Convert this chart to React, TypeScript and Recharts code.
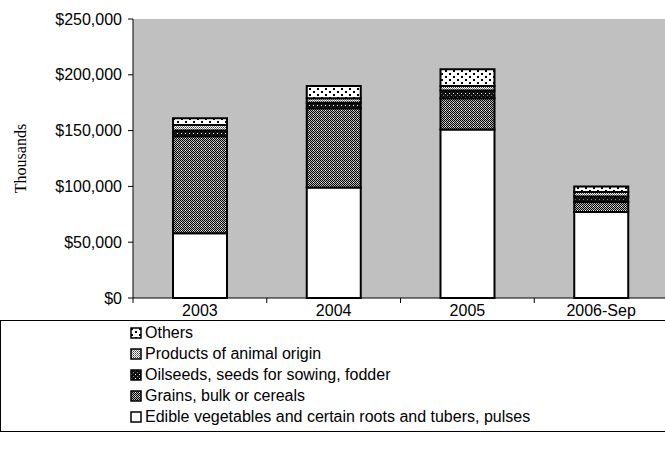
import React from 'react';
import { BarChart, Bar, XAxis, YAxis, CartesianGrid } from 'recharts';

const categories = ['2003', '2004', '2005', '2006-Sep'];
const edible = [58000, 99000, 151000, 77000];
const grains = [87000, 71000, 28000, 9000];
const oilseeds = [5000, 5000, 7000, 5000];
const animal = [5000, 4000, 4000, 4000];
const others = [6000, 11000, 15000, 5000];
const yTicks = [0, 50000, 100000, 150000, 200000, 250000];

const seriesKeys = ['edible', 'grains', 'oilseeds', 'animal', 'others'];
const seriesNames = [
  'Edible vegetables and certain roots and tubers, pulses',
  'Grains, bulk or cereals',
  'Oilseeds, seeds for sowing, fodder',
  'Products of animal origin',
  'Others',
];
const seriesFills = ['#ffffff', 'url(#pGrains)', 'url(#pOil)', 'url(#pAnimal)', 'url(#pOthers)'];

const data = categories.map((c, i) => ({
  category: c,
  edible: edible[i],
  grains: grains[i],
  oilseeds: oilseeds[i],
  animal: animal[i],
  others: others[i],
}));

const ARIAL = "'Liberation Sans', Arial, sans-serif";
const SERIF = "'Liberation Serif', 'Times New Roman', serif";

const fmt = (v: number) => '$' + v.toLocaleString('en-US');

const TICK_SIZE = 5;
const TICK_MARGIN = 1;

function CategoryTick(props: any) {
  const { x, y, payload, index } = props;
  const half = payload && payload.offset ? payload.offset : 0;
  const axisY = y - TICK_SIZE - TICK_MARGIN;
  return (
    <g>
      {index === 0 ? (
        <line x1={x - half} x2={x - half} y1={axisY} y2={axisY + TICK_SIZE} stroke="#000" />
      ) : null}
      <line x1={x + half} x2={x + half} y1={axisY} y2={axisY + TICK_SIZE} stroke="#000" />
      <text
        x={x}
        y={y}
        dy="0.78em"
        textAnchor="middle"
        fill="#000"
        fontFamily={ARIAL}
        fontSize={16}
      >
        {payload.value}
      </text>
    </g>
  );
}

function Patterns() {
  return (
    <svg width={0} height={0} style={{ position: 'absolute' }}>
      <defs>
        <pattern id="pGrains" patternUnits="userSpaceOnUse" width={4} height={4}>
          <rect x={0} y={0} width={4} height={4} fill="#b8b8b8" />
          <rect x={0} y={0} width={1} height={1} fill="#000" />
          <rect x={2} y={0} width={1} height={1} fill="#000" />
          <rect x={1} y={1} width={1} height={1} fill="#000" />
          <rect x={3} y={1} width={1} height={1} fill="#000" />
          <rect x={0} y={2} width={1} height={1} fill="#000" />
          <rect x={2} y={2} width={1} height={1} fill="#000" />
          <rect x={1} y={3} width={1} height={1} fill="#000" />
          <rect x={3} y={3} width={1} height={1} fill="#000" />
          <rect x={1} y={2} width={1} height={1} fill="#fff" />
        </pattern>
        <pattern id="pOil" patternUnits="userSpaceOnUse" width={4} height={4}>
          <rect x={0} y={0} width={4} height={4} fill="#111" />
          <rect x={1} y={1} width={1} height={1} fill="#fff" />
          <rect x={3} y={3} width={1} height={1} fill="#888" />
        </pattern>
        <pattern id="pAnimal" patternUnits="userSpaceOnUse" width={2} height={2}>
          <rect x={0} y={0} width={2} height={2} fill="#ffffff" />
          <rect x={0} y={0} width={1} height={1} fill="#808080" />
          <rect x={1} y={1} width={1} height={1} fill="#404040" />
        </pattern>
        <pattern id="pOthers" patternUnits="userSpaceOnUse" width={8} height={6}>
          <rect x={0} y={0} width={8} height={6} fill="#ffffff" />
          <rect x={1} y={1} width={2} height={2} fill="#000" />
          <rect x={5} y={4} width={2} height={2} fill="#000" />
        </pattern>
      </defs>
    </svg>
  );
}

export default function App() {
  const legendOrder = [4, 3, 2, 1, 0];
  return (
    <div
      style={{
        position: 'absolute',
        left: 0,
        top: 0,
        width: 665,
        height: 463,
        overflow: 'hidden',
        background: '#fff',
      }}
    >
      <Patterns />
      <BarChart
        width={680}
        height={320}
        data={data}
        margin={{ top: 19, right: 12, bottom: 0, left: 0 }}
        barCategoryGap="30%"
      >
        <CartesianGrid horizontal={false} vertical={false} fill="#c0c0c0" />
        <XAxis
          dataKey="category"
          tickLine={false}
          axisLine={{ stroke: '#000', strokeWidth: 1 }}
          tick={<CategoryTick />}
          tickSize={TICK_SIZE}
          tickMargin={TICK_MARGIN}
          height={22}
          interval={0}
        />
        <YAxis
          width={133}
          domain={[0, 250000]}
          ticks={yTicks}
          tickFormatter={fmt}
          tick={{ fill: '#000', fontFamily: ARIAL, fontSize: 16 }}
          tickLine={{ stroke: '#000' }}
          tickSize={5}
          tickMargin={6}
          axisLine={{ stroke: '#000', strokeWidth: 1 }}
          label={{
            value: 'Thousands',
            angle: -90,
            position: 'insideLeft',
            offset: 20,
            style: { fill: '#000', fontFamily: SERIF, fontSize: 16, textAnchor: 'middle' },
          }}
        />
        {seriesKeys.map((k, i) => (
          <Bar
            key={k}
            dataKey={k}
            name={seriesNames[i]}
            stackId="a"
            fill={seriesFills[i]}
            stroke="#000"
            strokeWidth={2}
            barSize={54}
            isAnimationActive={false}
          />
        ))}
      </BarChart>
      <div
        style={{
          position: 'absolute',
          left: 0,
          top: 320,
          width: 700,
          height: 112,
          border: '1px solid #000',
          boxSizing: 'border-box',
        }}
      >
        {legendOrder.map((idx, j) => (
          <div
            key={idx}
            style={{
              position: 'absolute',
              left: 129,
              top: 1 + j * 21,
              height: 21,
              display: 'flex',
              alignItems: 'center',
              fontFamily: ARIAL,
              fontSize: 16,
              color: '#000',
              whiteSpace: 'nowrap',
            }}
          >
            <svg width={12} height={12} style={{ marginRight: 3 }}>
              <rect x={1} y={1} width={10} height={10} fill={seriesFills[idx]} stroke="#000" strokeWidth={1.5} />
            </svg>
            <span>{seriesNames[idx]}</span>
          </div>
        ))}
      </div>
    </div>
  );
}
